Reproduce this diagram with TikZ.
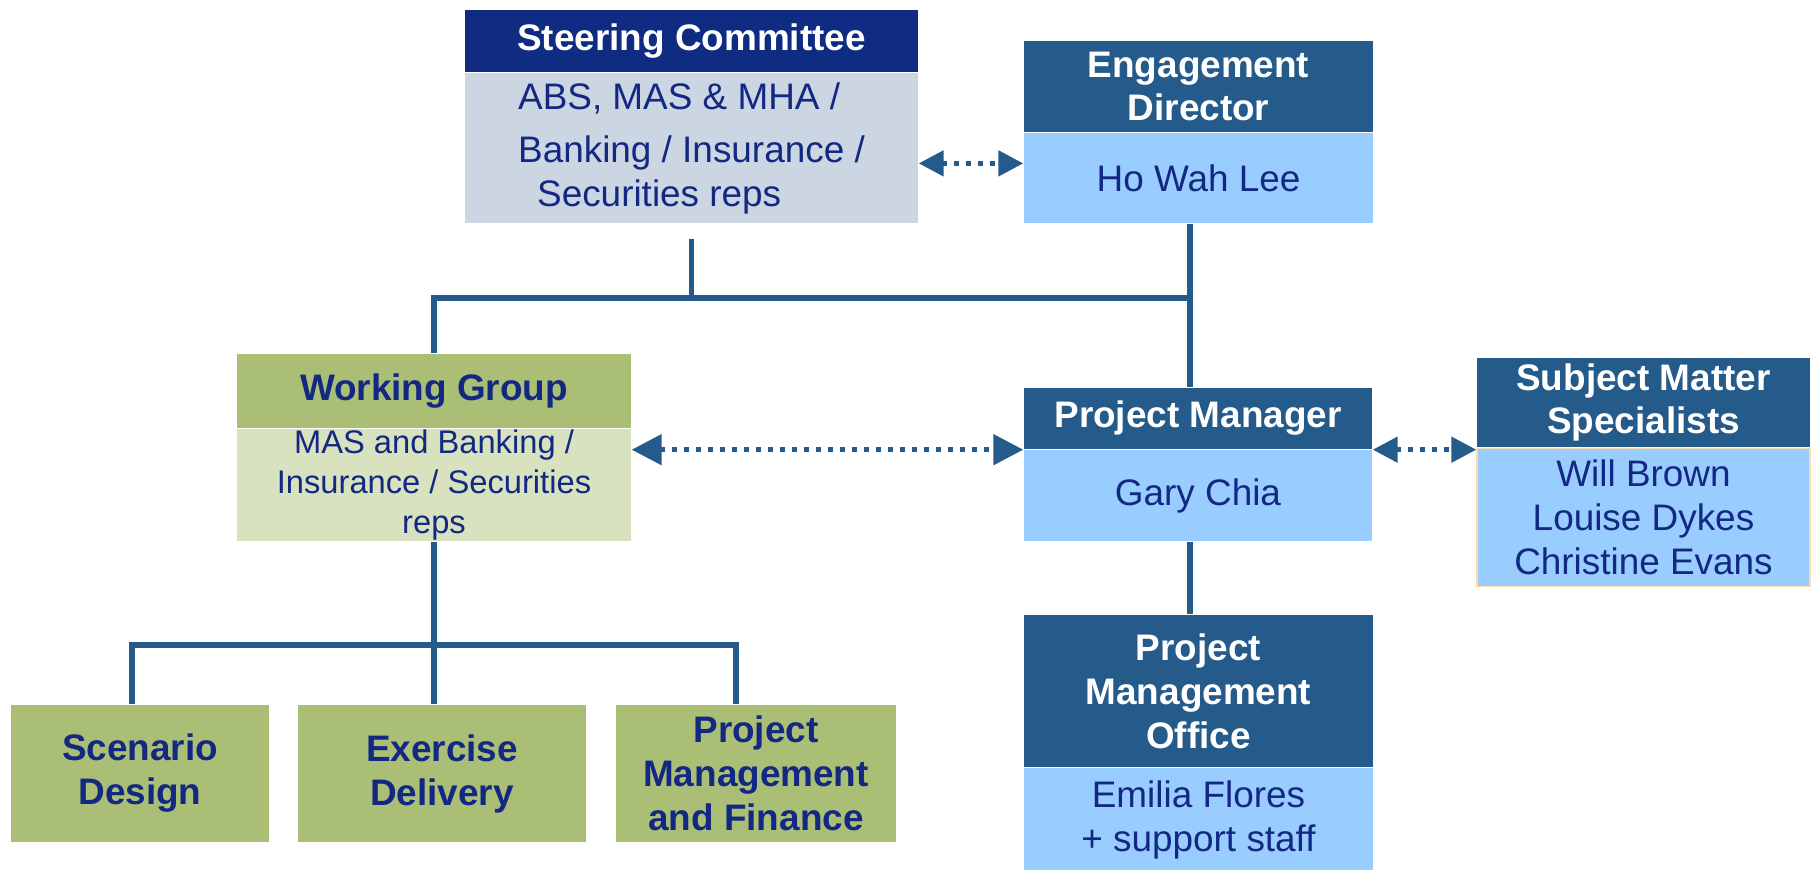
\documentclass[tikz,border=0pt]{standalone}
\usepackage{fontspec}
\setmainfont{Liberation Sans}
\usetikzlibrary{arrows.meta}
\definecolor{navyhead}{RGB}{15,43,130}
\definecolor{steel}{RGB}{37,91,138}
\definecolor{skyfill}{RGB}{153,204,255}
\definecolor{greyfill}{RGB}{204,214,226}
\definecolor{olive}{RGB}{170,190,118}
\definecolor{paleolive}{RGB}{216,226,190}
\definecolor{inkblue}{RGB}{18,40,130}
\definecolor{peach}{RGB}{250,220,175}

\begin{document}
\begin{tikzpicture}[
    box/.style={rectangle, inner sep=0pt, align=center, font=\fontsize{10.5}{12.5}\selectfont},
    head/.style={box, fill=#1, text=white, font=\fontsize{10.5}{12.5}\selectfont\bfseries},
    greenhead/.style={box, fill=#1, text=inkblue, font=\fontsize{10.5}{12.5}\selectfont\bfseries},
    body/.style={box, fill=#1, text=inkblue},
    link/.style={draw=steel, line width=0.055cm},
    dotlink/.style={draw=steel, line width=0.05cm, dash pattern=on 0.05cm off 0.07cm, >={Triangle[length=#1,width=#1]}, <->}
]
    \useasboundingbox (0,0) rectangle (18.15,-8.70);

    \node (sc) [head=navyhead, minimum width=4.53cm, minimum height=0.62cm] at (6.915,-0.41) {Steering Committee};
    \node (scb) [body=greyfill, anchor=north, minimum width=4.53cm, minimum height=1.5cm, align=left] at (sc.south) {ABS, MAS \& MHA /\\[0.1cm]Banking / Insurance /\\\hspace*{0.19cm}Securities reps};

    \node (ed) [head=steel, minimum width=3.49cm, minimum height=0.91cm] at (11.985,-0.865) {Engagement\\Director};
    \node (edb) [body=skyfill, anchor=north, minimum width=3.49cm, minimum height=0.9cm] at (ed.south) {Ho Wah Lee};

    \node (wg) [greenhead=olive, minimum width=3.94cm, minimum height=0.74cm] at (4.34,-3.91) {Working Group};
    \node (wgb) [body=paleolive, anchor=north, minimum width=3.94cm, minimum height=1.12cm, font=\fontsize{9.3}{11.4}\selectfont] at (wg.south) {MAS and Banking /\\Insurance / Securities\\reps};

    \node (pm) [head=steel, minimum width=3.48cm, minimum height=0.61cm] at (11.98,-4.185) {Project Manager};
    \node (pmb) [body=skyfill, anchor=north, minimum width=3.48cm, minimum height=0.91cm] at (pm.south) {Gary Chia};

    \node (sms) [head=steel, minimum width=3.33cm, minimum height=0.89cm] at (16.435,-4.025) {Subject Matter\\Specialists};
    \node (smsb) [body=skyfill, draw=peach, anchor=north, minimum width=3.33cm, minimum height=1.38cm] at (sms.south) {Will Brown\\Louise Dykes\\Christine Evans};

    \node (pmo) [head=steel, minimum width=3.49cm, minimum height=1.52cm] at (11.985,-6.91) {Project\\Management\\Office};
    \node (pmob) [body=skyfill, anchor=north, minimum width=3.49cm, minimum height=1.03cm] at (pmo.south) {Emilia Flores\\+ support staff};

    \node (sd) [greenhead=olive, minimum width=2.58cm, minimum height=1.37cm] at (1.40,-7.735) {Scenario\\Design};
    \node (exd) [greenhead=olive, minimum width=2.88cm, minimum height=1.37cm] at (4.42,-7.735) {Exercise\\Delivery};
    \node (pmf) [greenhead=olive, minimum width=2.80cm, minimum height=1.37cm] at (7.56,-7.735) {Project\\Management\\and Finance};

    \coordinate (bus) at (0,-2.98);
    \coordinate (trunk) at (11.90,-2.98);
    \coordinate (forkl) at (1.32,-6.45);
    \coordinate (forkr) at (7.36,-6.45);

    \draw[link] ([yshift=-0.15cm]scb.south) -- (scb.south |- bus);
    \draw[link] (wg.north) -- (wg.north |- bus) -- (trunk);
    \draw[link] (edb.south -| trunk) -- (pm.north -| trunk);
    \draw[link] (pmb.south -| trunk) -- (pmo.north -| trunk);
    \draw[link] (wgb.south) -- (wgb.south |- exd.north);
    \draw[link] (forkl |- sd.north) -- (forkl) -- (forkr) -- (forkr |- pmf.north);

    \draw[dotlink=0.25cm] ([yshift=0.15cm]edb.west -| scb.east) -- ([yshift=0.15cm]edb.west);
    \draw[dotlink=0.3cm] (wgb.east |- pmb.north) -- (pmb.north west);
    \draw[dotlink=0.25cm] (pmb.north east) -- (pmb.north east -| smsb.west);

\end{tikzpicture}
\end{document}
